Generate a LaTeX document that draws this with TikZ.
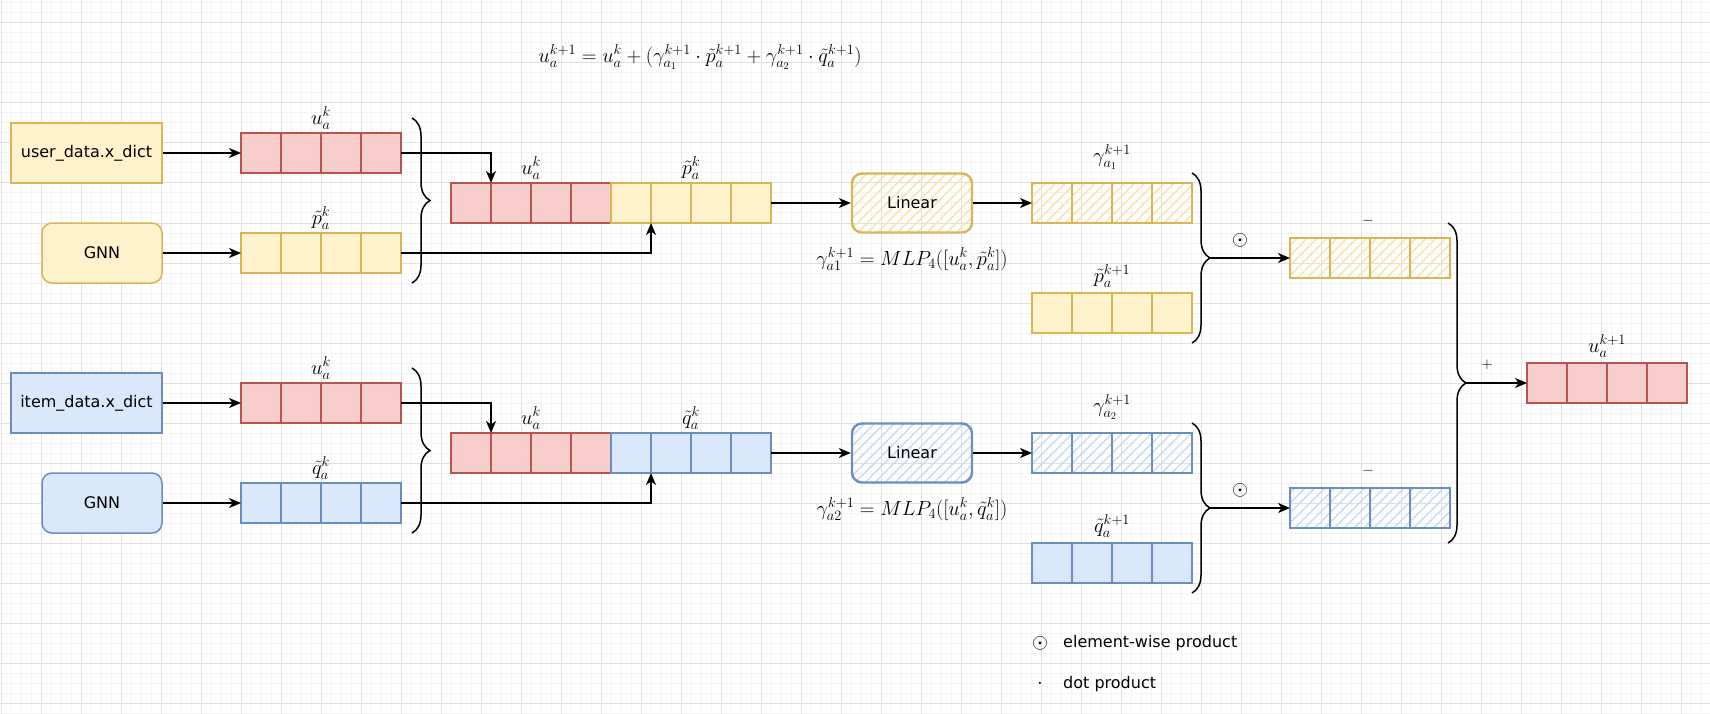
\RequirePackage{fix-cm}
\documentclass[tikz,border=0pt]{standalone}
\usepackage{fontspec}
\setsansfont{DejaVu Sans}
\usetikzlibrary{arrows.meta,decorations.pathreplacing,patterns.meta}
\definecolor{yF}{HTML}{FFF2CC}
\definecolor{yD}{HTML}{D6B656}
\definecolor{yH}{HTML}{F7E4A8}
\definecolor{rF}{HTML}{F8CECC}
\definecolor{rD}{HTML}{B85450}
\definecolor{bF}{HTML}{DAE8FC}
\definecolor{bD}{HTML}{6C8EBF}
\definecolor{bH}{HTML}{C8DBF6}
\definecolor{gmin}{HTML}{F4F4F4}
\definecolor{gmaj}{HTML}{E0E0E0}
\tikzset{
  txt/.style={font=\sffamily\fontsize{16}{19}\selectfont},
  ybox/.style={txt, draw=yD, fill=yF, line width=1.5pt, inner sep=0pt},
  bbox/.style={txt, draw=bD, fill=bF, line width=1.5pt, inner sep=0pt},
  cellbase/.style={minimum width=40pt, minimum height=40pt, inner sep=0pt, outer sep=0pt},
  cellR/.style={cellbase, draw=rD, fill=rF, line width=1.5pt},
  cellY/.style={cellbase, draw=yD, fill=yF, line width=1.5pt},
  cellB/.style={cellbase, draw=bD, fill=bF, line width=1.5pt},
  hatY/.style={cellbase, draw=yD, line width=2.4pt, pattern={Lines[angle=45,distance=7pt,line width=1.4pt]}, pattern color=yH},
  hatB/.style={cellbase, draw=bD, line width=2.4pt, pattern={Lines[angle=45,distance=7pt,line width=1.4pt]}, pattern color=bH},
  mlab/.style={font=\fontsize{20.5}{24}\selectfont, inner sep=0pt},
  slab/.style={font=\fontsize{15}{18}\selectfont, inner sep=0pt},
  conn/.style={line width=1.4pt, -{Stealth[length=12pt,width=10pt,inset=3.5pt]}},
  brc/.style={decorate, decoration={brace, amplitude=18pt, aspect=0.5}, line width=1.5pt},
}
\newcommand\vecrow[4]{%
  \foreach \i in {1,2,3,4}{\node[#4, anchor=north west] (#1-\i) at ({#2+40*(\i-1)},#3) {};}%
}
\begin{document}
\begin{tikzpicture}[x=1pt,y=-1pt]
\useasboundingbox (0,0) rectangle (1710,714);
\fill[white] (0,0) rectangle (1710,714);
% grid
\foreach \x in {1,11,...,1710} \draw[gmin, line width=1pt] (\x,0) -- (\x,714);
\foreach \y in {3,13,...,714} \draw[gmin, line width=1pt] (0,\y) -- (1710,\y);
\foreach \x in {1,41,...,1710} \draw[gmaj, line width=1pt] (\x,0) -- (\x,714);
\foreach \y in {23,63,...,714} \draw[gmaj, line width=1pt] (0,\y) -- (1710,\y);

% top formula
\node[mlab] (eq) at (700,57) {$u_a^{k+1} = u_a^k + (\gamma_{a_1}^{k+1} \cdot \tilde{p}_a^{k+1} + \gamma_{a_2}^{k+1} \cdot \tilde{q}_a^{k+1})$};

% ===== upper branch =====
\node[ybox, minimum width=151pt, minimum height=60pt] (user) at (86.5,153) {user\_data.x\_dict};
\node[ybox, rounded corners=10pt, minimum width=120pt, minimum height=60pt] (gnn1) at (102,253) {GNN};
\vecrow{u1}{241}{133}{cellR}
\vecrow{p1}{241}{233}{cellY}
\node[mlab] (lu1) at (321,118) {$u_a^k$};
\node[mlab] (lp1) at (321,218) {$\tilde{p}_a^k$};
\draw[brc] (412,118) -- (412,283);
\vecrow{cu1}{451}{183}{cellR}
\vecrow{cp1}{611}{183}{cellY}
\node[mlab] (lcu1) at (531,168) {$u_a^k$};
\node[mlab] (lcp1) at (691,168) {$\tilde{p}_a^k$};
\node[ybox, draw=yD, fill=white, pattern={Lines[angle=45,distance=7pt,line width=1.4pt]}, pattern color=yH, line width=2.4pt, rounded corners=10pt, minimum width=120pt, minimum height=59pt] (lin1) at (912,203) {Linear};
\node[mlab] (mlp1) at (912,259) {$\gamma_{a1}^{k+1} = MLP_4([u_a^k, \tilde{p}_a^k])$};
\vecrow{g1}{1032}{183}{hatY}
\node[mlab] (lg1) at (1112,157) {$\gamma_{a_1}^{k+1}$};
\vecrow{pn1}{1032}{293}{cellY}
\node[mlab] (lpn1) at (1112,276) {$\tilde{p}_a^{k+1}$};
\draw[brc] (1192,173) -- (1192,343);
\coordinate (bt1) at (1210,258);
\node[mlab] (od1) at (1240,240) {$\odot$};
\vecrow{e1}{1290}{238}{hatY}
\node[slab] (mi1) at (1368,221) {$-$};

% ===== lower branch =====
\node[bbox, minimum width=151pt, minimum height=60pt] (item) at (86.5,403) {item\_data.x\_dict};
\node[bbox, rounded corners=10pt, minimum width=120pt, minimum height=60pt] (gnn2) at (102,503) {GNN};
\vecrow{u2}{241}{383}{cellR}
\vecrow{q2}{241}{483}{cellB}
\node[mlab] (lu2) at (321,368) {$u_a^k$};
\node[mlab] (lq2) at (321,468) {$\tilde{q}_a^k$};
\draw[brc] (412,368) -- (412,533);
\vecrow{cu2}{451}{433}{cellR}
\vecrow{cq2}{611}{433}{cellB}
\node[mlab] (lcu2) at (531,418) {$u_a^k$};
\node[mlab] (lcq2) at (691,418) {$\tilde{q}_a^k$};
\node[bbox, draw=bD, fill=white, pattern={Lines[angle=45,distance=7pt,line width=1.4pt]}, pattern color=bH, line width=2.4pt, rounded corners=10pt, minimum width=120pt, minimum height=59pt] (lin2) at (912,453) {Linear};
\node[mlab] (mlp2) at (912,509) {$\gamma_{a2}^{k+1} = MLP_4([u_a^k, \tilde{q}_a^k])$};
\vecrow{g2}{1032}{433}{hatB}
\node[mlab] (lg2) at (1112,407) {$\gamma_{a_2}^{k+1}$};
\vecrow{qn2}{1032}{543}{cellB}
\node[mlab] (lqn2) at (1112,526) {$\tilde{q}_a^{k+1}$};
\draw[brc] (1192,423) -- (1192,593);
\coordinate (bt2) at (1210,508);
\node[mlab] (od2) at (1240,490) {$\odot$};
\vecrow{e2}{1290}{488}{hatB}
\node[slab] (mi2) at (1368,471) {$-$};

% ===== merge =====
\draw[brc] (1448,223) -- (1448,543);
\coordinate (bt3) at (1466,383);
\node[slab] (plus) at (1487,365) {$+$};
\vecrow{f}{1527}{363}{cellR}
\node[mlab] (lf) at (1607,346) {$u_a^{k+1}$};

% connectors
\draw[conn] (user.east) -- (u1-1.west);
\draw[conn] (gnn1.east) -- (p1-1.west);
\draw[conn] (u1-4.east) -| (cu1-1.north east);
\draw[conn] (p1-4.east) -| (cp1-1.south east);
\draw[conn] (cp1-4.east) -- (lin1.west);
\draw[conn] (lin1.east) -- (g1-1.west);
\draw[conn] (bt1) -- (e1-1.west);
\draw[conn] (item.east) -- (u2-1.west);
\draw[conn] (gnn2.east) -- (q2-1.west);
\draw[conn] (u2-4.east) -| (cu2-1.north east);
\draw[conn] (q2-4.east) -| (cq2-1.south east);
\draw[conn] (cq2-4.east) -- (lin2.west);
\draw[conn] (lin2.east) -- (g2-1.west);
\draw[conn] (bt2) -- (e2-1.west);
\draw[conn] (bt3) -- (f-1.west);

% legend
\node[mlab] (lod) at (1040,643) {$\odot$};
\node[txt, anchor=west, inner sep=0pt] (lodt) at (1063,643) {element-wise product};
\node[mlab] (ldot) at (1040,684) {$\cdot$};
\node[txt, anchor=west, inner sep=0pt] (ldott) at (1063,684) {dot product};
\end{tikzpicture}
\end{document}
